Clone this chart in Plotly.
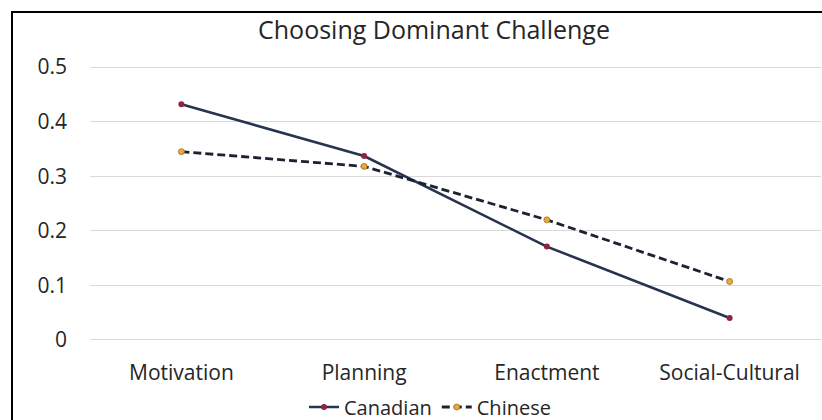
import plotly.graph_objects as go

categories = ["Motivation", "Planning", "Enactment", "Social-Cultural"]
canadian = [0.432, 0.337, 0.171, 0.040]
chinese = [0.345, 0.318, 0.220, 0.107]
y_ticks = [0, 0.1, 0.2, 0.3, 0.4, 0.5]
y_tick_text = ["0", "0.1", "0.2", "0.3", "0.4", "0.5"]

FONT = "Open Sans"
W, H = 822, 420
L, R, T, B = 90, 1, 66, 79
pw, ph = W - L - R, H - T - B

fig = go.Figure()
fig.add_trace(go.Scatter(
    x=categories, y=canadian, name="Canadian", mode="lines+markers",
    line=dict(color="#27344f", width=2.6),
    marker=dict(color="#8e2440", size=6, line=dict(color="#8e2440", width=0)),
))
fig.add_trace(go.Scatter(
    x=categories, y=chinese, name="Chinese", mode="lines+markers",
    line=dict(color="#1c2230", width=2.8, dash="8px,4px"),
    marker=dict(color="#e9a93c", size=6, line=dict(color="#a07020", width=0.8)),
))

def px_x(px):
    return (px - L) / pw

def px_y(py):
    return (H - B - py) / ph

fig.add_shape(type="line", xref="paper", yref="paper",
              x0=px_x(12), x1=px_x(12), y0=px_y(11), y1=px_y(425),
              line=dict(color="black", width=2))
fig.add_shape(type="line", xref="paper", yref="paper",
              x0=px_x(11), x1=px_x(830), y0=px_y(12), y1=px_y(12),
              line=dict(color="black", width=2))

fig.update_layout(
    width=W, height=H,
    margin=dict(l=L, r=R, t=T, b=B, autoexpand=False),
    paper_bgcolor="white", plot_bgcolor="white",
    font=dict(family=FONT, color="#404040", size=20),
    title=dict(text="Choosing Dominant Challenge", x=434 / W, xanchor="center",
               y=1 - 30 / H, yanchor="middle",
               font=dict(family=FONT, size=25, color="#262626")),
    xaxis=dict(type="category", range=[-0.5, 3.5], showgrid=False, zeroline=False,
               showline=False, tickfont=dict(family=FONT, size=21, color="#262626"),
               ticks="", ticklabelstandoff=17),
    yaxis=dict(range=[-0.002, 0.502], tickvals=y_ticks, ticktext=y_tick_text,
               showgrid=True, gridcolor="#d9d9d9", gridwidth=1,
               zeroline=False, showline=False, ticks="",
               tickfont=dict(family=FONT, size=21, color="#262626"),
               ticklabelstandoff=22),
    showlegend=True,
    legend=dict(orientation="h", x=430 / W, xanchor="center", xref="container",
                y=1 - 407 / H, yanchor="middle", yref="container",
                font=dict(family=FONT, size=20, color="#262626"),
                itemwidth=30, tracegroupgap=0),
)

fig.write_html("out.html", config={"displayModeBar": False},
               post_script="document.body.style.margin='0';document.body.style.overflow='hidden';")
